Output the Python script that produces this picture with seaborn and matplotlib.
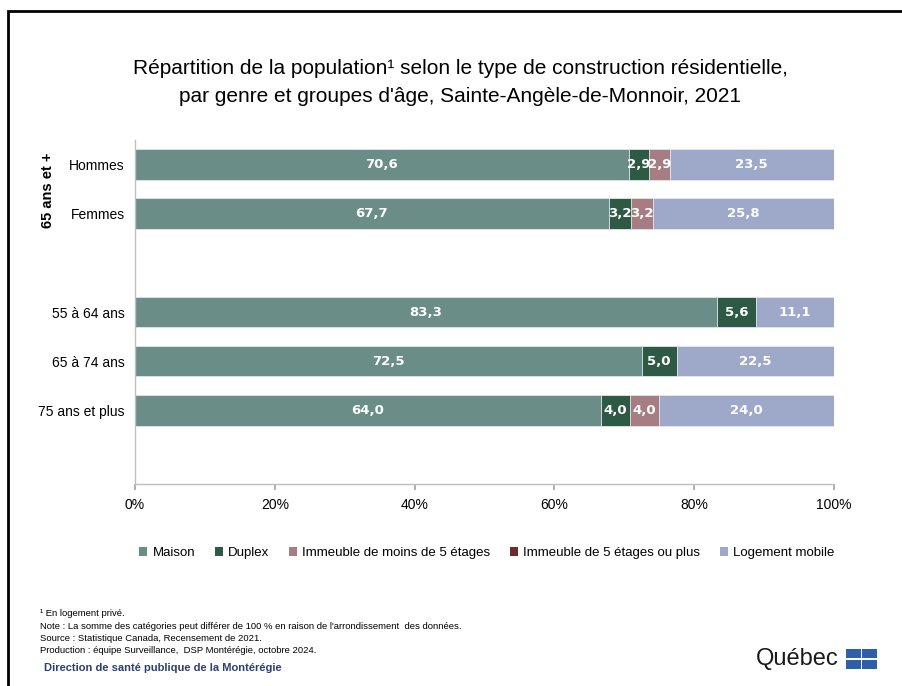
import pandas as pd
import seaborn as sns
import matplotlib.pyplot as plt
from matplotlib.patches import Patch, Rectangle

# Data
groups = ["Hommes", "Femmes", "gap1", "55 à 64 ans", "65 à 74 ans", "75 ans et plus", "gap2"]
rows = ["Hommes", "Femmes", "55 à 64 ans", "65 à 74 ans", "75 ans et plus"]
series = ["Maison", "Duplex", "Immeuble de moins de 5 étages",
          "Immeuble de 5 étages ou plus", "Logement mobile"]
maison = [70.6, 67.7, 83.3, 72.5, 64.0]
duplex = [2.9, 3.2, 5.6, 5.0, 4.0]
imm_moins5 = [2.9, 3.2, 0.0, 0.0, 4.0]
imm_5plus = [0.0, 0.0, 0.0, 0.0, 0.0]
mobile = [23.5, 25.8, 11.1, 22.5, 24.0]
colors = ["#6A8E87", "#2E5944", "#A67D83", "#6E2B2B", "#9EA8C9"]

df = pd.DataFrame({"groupe": rows, "Maison": maison, "Duplex": duplex,
                   series[2]: imm_moins5, series[3]: imm_5plus,
                   "Logement mobile": mobile})
# 100% stacked: bars are normalised, labels keep the raw values
total = df[series].sum(axis=1)
pct = df[series].div(total, axis=0) * 100
cum = pct.cumsum(axis=1)

sns.set_theme(style="white")
plt.rcParams["font.family"] = ["Liberation Sans", "DejaVu Sans"]
plt.rcParams["text.color"] = "black"
plt.rcParams["xtick.color"] = "black"
plt.rcParams["ytick.color"] = "black"

fig = plt.figure(figsize=(9.02, 6.86), dpi=100)
ax = fig.add_axes([135 / 902, 1 - 484 / 686, 699 / 902, 344 / 686])

# stacked bars: draw cumulative from the last series to the first
for s, c in reversed(list(zip(series, colors))):
    d = pd.DataFrame({"groupe": rows, "val": cum[s]})
    sns.barplot(data=d, x="val", y="groupe", order=groups, orient="h",
                color=c, saturation=1, width=0.62, ax=ax,
                edgecolor="#E6E8EF", linewidth=0.6)

# value labels
for i, g in enumerate(rows):
    ypos = groups.index(g)
    left = 0
    for s in series:
        w = pct.loc[i, s]
        if df.loc[i, s] > 0:
            ax.text(left + w / 2, ypos, f"{df.loc[i, s]:.1f}".replace(".", ","),
                    ha="center", va="center", color="white", fontsize=9.5,
                    fontweight="bold", family="DejaVu Sans")
        left += w

ax.set_xlim(0, 100)
ax.set_ylim(6.5, -0.5)
ax.set_xticks(range(0, 101, 20))
ax.set_xticklabels([f"{v}%" for v in range(0, 101, 20)], fontsize=10)
ax.set_yticks(range(len(groups)))
ax.set_yticklabels([g if not g.startswith("gap") else "" for g in groups], fontsize=10)
ax.set_xlabel("")
ax.set_ylabel("")
ax.tick_params(axis="x", bottom=True, length=4, color="#A6A6A6", pad=6)
ax.tick_params(axis="y", left=False, pad=1.5)
for sp in ["top", "right"]:
    ax.spines[sp].set_visible(False)
for sp in ["left", "bottom"]:
    ax.spines[sp].set_color("#BFBFBF")
    ax.spines[sp].set_linewidth(1)

fig.text(48 / 902, 1 - 190 / 686, "65 ans et +", rotation=90, ha="center",
         va="center", fontsize=10.5, fontweight="bold")

# title
fig.text(460 / 902, 1 - 68 / 686,
         "Répartition de la population\u00b9 selon le type de construction résidentielle,",
         ha="center", va="center", fontsize=15)
fig.text(460 / 902, 1 - 96 / 686,
         "par genre et groupes d'âge, Sainte-Angèle-de-Monnoir, 2021",
         ha="center", va="center", fontsize=15)

# legend
handles = [Patch(facecolor=c, edgecolor="none", label=s) for s, c in zip(series, colors)]
fig.legend(handles=handles, loc="center", bbox_to_anchor=(487 / 902, 1 - 553 / 686),
           ncol=5, frameon=False, handlelength=0.6, handleheight=0.6,
           handletextpad=0.4, columnspacing=1.5, prop={"size": 9.5})

# footnotes
notes = ["\u00b9 En logement privé.",
         "Note : La somme des catégories peut différer de 100 % en raison de l'arrondissement  des données.",
         "Source : Statistique Canada, Recensement de 2021.",
         "Production : équipe Surveillance,  DSP Montérégie, octobre 2024."]
for k, t in enumerate(notes):
    fig.text(40 / 902, 1 - (614 + k * 12.3) / 686, t, ha="left", va="center",
             fontsize=6.8)
fig.text(44 / 902, 1 - 668 / 686, "Direction de santé publique de la Montérégie",
         ha="left", va="center", fontsize=8, fontweight="bold", color="#2E3F6E")

# Québec wordmark
fig.text(839 / 902, 1 - 659 / 686, "Québec", ha="right", va="center",
         fontsize=17, color="#1A1A1A")
for dx in (0, 1):
    for dy in (0, 1):
        fig.add_artist(Rectangle(((846 + dx * 16) / 902, 1 - (669 - dy * 11) / 686),
                                 14.5 / 902, 9.5 / 686, transform=fig.transFigure,
                                 facecolor="#2F5FA8", edgecolor="none"))

# frame
fig.add_artist(Rectangle((8 / 902, -0.02), 1.0, 1 - 11 / 686 + 0.02,
                         transform=fig.transFigure, fill=False,
                         edgecolor="black", linewidth=2))

fig.savefig("out.png", dpi=100)
